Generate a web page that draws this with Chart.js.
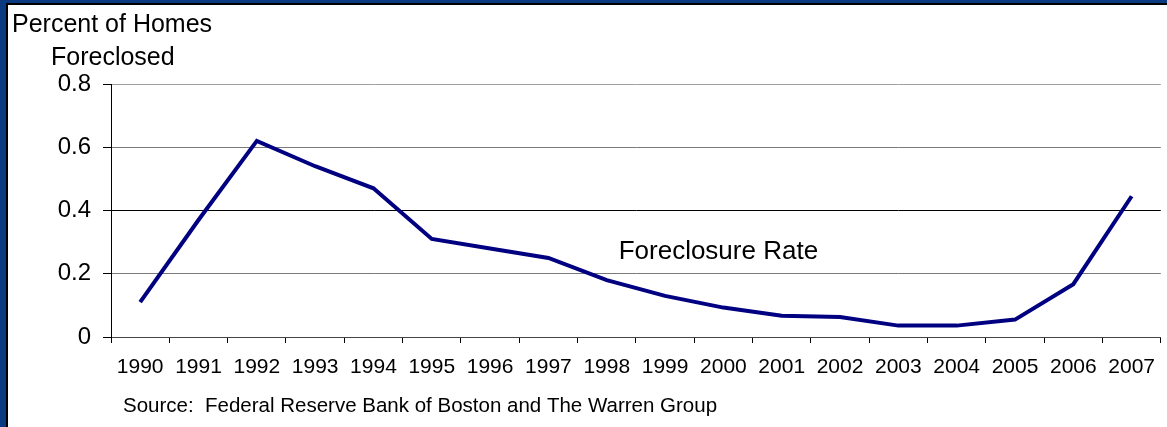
<!DOCTYPE html>
<html lang="en">
<head>
  <meta charset="UTF-8">
  <title>Foreclosure Rate</title>
  <script src="https://cdn.jsdelivr.net/npm/chart.js"></script>
  <style>
    html, body { margin: 0; padding: 0; }
    body { width: 1167px; height: 427px; background: #0b3a80; position: relative; overflow: hidden; }
    #paper { position: absolute; left: 6px; top: 3px; right: 0; bottom: 0; background: #fff;
             border-left: 2px solid #000; border-top: 2px solid #000; }
    #rateChart { position: absolute; left: 0; top: 0; }
  </style>
</head>
<body>
  <div id="paper"></div>
  <canvas id="rateChart" width="1167" height="427"></canvas>

  <script>
    const years = ['1990', '1991', '1992', '1993', '1994', '1995', '1996', '1997', '1998',
                   '1999', '2000', '2001', '2002', '2003', '2004', '2005', '2006', '2007'];
    // percent of homes foreclosed
    const rates = [0.11, 0.37, 0.62, 0.54, 0.47, 0.31, 0.28, 0.25, 0.18,
                   0.13, 0.093, 0.067, 0.063, 0.036, 0.036, 0.055, 0.167, 0.445];
    const yTicks = [0, 0.2, 0.4, 0.6, 0.8];

    const titleLines = ['Percent of Homes', 'Foreclosed'];
    const seriesNote = 'Foreclosure Rate';
    const notePos = ['2000', 0.27];
    const sourceText = 'Source:  Federal Reserve Bank of Boston and The Warren Group';

    const FONT = "'Liberation Sans', Arial, sans-serif";

    // gridline colour per value, the 0.4 line is darker in the original
    function gridColor(ctx) {
      const v = ctx.tick ? Math.round(ctx.tick.value * 10) / 10 : 0;
      if (v === 0) return '#333';
      if (v === 0.4) return '#000';
      if (v === 0.8) return '#a0a0a0';
      return '#7a7a7a';
    }

    const textPlugin = {
      id: 'texts',
      afterDatasetsDraw(chart) {
        const c = chart.ctx;
        const xs = chart.scales.x, ys = chart.scales.y;
        c.save();
        c.fillStyle = '#000';
        c.textBaseline = 'alphabetic';
        c.textAlign = 'left';
        c.font = '25px ' + FONT;
        c.fillText(titleLines[0], 12, 32);
        c.fillText(titleLines[1], 51, 65);

        c.font = '26px ' + FONT;
        c.textAlign = 'center';
        c.textBaseline = 'middle';
        c.fillText(seriesNote, xs.getPixelForValue(years.indexOf(notePos[0])) - 5, ys.getPixelForValue(notePos[1]));

        c.font = '20.5px ' + FONT;
        c.textAlign = 'left';
        c.textBaseline = 'middle';
        c.fillText(sourceText, 123, 406);
        c.restore();
      }
    };

    const ctx = document.getElementById('rateChart').getContext('2d');
    new Chart(ctx, {
      type: 'line',
      data: {
        labels: years,
        datasets: [{
          label: 'Foreclosure Rate',
          data: rates,
          borderColor: '#000080',
          borderWidth: 4,
          pointRadius: 0,
          tension: 0,
          borderJoinStyle: 'miter'
        }]
      },
      options: {
        responsive: false,
        animation: false,
        layout: { padding: { top: 84, left: 0, right: 0, bottom: 0 } },
        plugins: { legend: { display: false }, tooltip: { enabled: false } },
        scales: {
          x: {
            offset: true,
            grid: {
              offset: true,
              drawOnChartArea: false,
              drawTicks: true,
              tickLength: 6,
              tickColor: '#000',
              color: '#000'
            },
            border: { color: '#444', width: 1 },
            ticks: {
              color: '#000',
              font: { family: FONT, size: 21 },
              padding: 12,
              maxRotation: 0,
              autoSkip: false
            },
            afterFit(scale) { scale.height = 90; }
          },
          y: {
            min: 0,
            max: 0.8,
            afterBuildTicks(scale) { scale.ticks = yTicks.map(v => ({ value: v })); },
            grid: {
              color: gridColor,
              lineWidth: 1,
              tickLength: 8,
              tickColor: '#000'
            },
            border: { color: '#000', width: 1 },
            ticks: {
              color: '#000',
              font: { family: FONT, size: 24 },
              padding: 12,
              callback: v => (v === 0 ? '0' : v.toFixed(1))
            },
            afterFit(scale) { scale.width = 111; }
          }
        }
      },
      plugins: [textPlugin]
    });
  </script>
</body>
</html>
